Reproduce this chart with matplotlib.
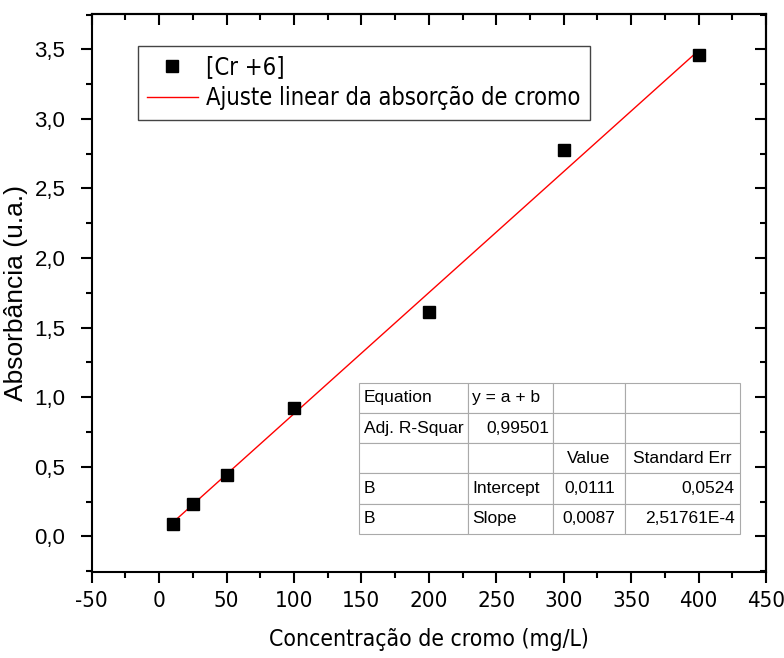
import matplotlib
matplotlib.use('Agg')
import matplotlib.pyplot as plt
import numpy as np
from matplotlib.ticker import MultipleLocator, FuncFormatter
from matplotlib.font_manager import FontProperties

# dados
conc = [10, 25, 50, 100, 200, 300, 400]
absorb = [0.091, 0.235, 0.444, 0.925, 1.615, 2.773, 3.461]
intercept = 0.0111
slope = 0.0087

table_rows = [['Equation', 'y = a + b', '', ''],
              ['Adj. R-Squar', '0,99501', '', ''],
              ['', '', 'Value', 'Standard Err'],
              ['B', 'Intercept', '0,0111', '0,0524'],
              ['B', 'Slope', '0,0087', '2,51761E-4']]

plt.rcParams['axes.unicode_minus'] = False
arial = ['Liberation Sans', 'DejaVu Sans']


def narrow(size):
    return FontProperties(family='DejaVu Sans', stretch='condensed', size=size)


fig = plt.figure(figsize=(7.84, 6.58), dpi=100)
ax = fig.add_axes([0.117, 0.131, 0.860, 0.848])

ax.plot(conc, absorb, 's', color='black', markersize=8, label='[Cr +6]', zorder=3)
xfit = np.array([conc[0], conc[-1]])
ax.plot(xfit, intercept + slope * xfit, color='red', lw=1,
        label='Ajuste linear da absorção de cromo', zorder=2)

ax.set_xlim(-50, 450)
ax.set_ylim(-0.255, 3.755)
ax.xaxis.set_major_locator(MultipleLocator(50))
ax.xaxis.set_minor_locator(MultipleLocator(25))
ax.yaxis.set_major_locator(MultipleLocator(0.5))
ax.yaxis.set_minor_locator(MultipleLocator(0.25))
ax.yaxis.set_major_formatter(FuncFormatter(lambda v, p: f'{v:.1f}'.replace('.', ',')))
ax.xaxis.set_major_formatter(FuncFormatter(lambda v, p: f'{v:.0f}'))

for s in ax.spines.values():
    s.set_linewidth(1.5)
ax.tick_params(which='major', direction='out', length=8, width=1.5,
               top=False, right=False)
ax.tick_params(which='minor', direction='out', length=4, width=1.5,
               top=False, right=False)
ax.tick_params(axis='x', which='major', pad=6)
ax.tick_params(axis='y', which='major', pad=11, labelsize=16,
               labelfontfamily='Liberation Sans')

# ticks internos em cima e à direita
sec_x = ax.secondary_xaxis('top')
sec_x.xaxis.set_major_locator(MultipleLocator(50))
sec_x.xaxis.set_minor_locator(MultipleLocator(25))
sec_x.tick_params(which='major', direction='in', length=8, width=1.5, labeltop=False)
sec_x.tick_params(which='minor', direction='in', length=4, width=1.5)
sec_x.spines['top'].set_linewidth(1.5)
sec_y = ax.secondary_yaxis('right')
sec_y.yaxis.set_major_locator(MultipleLocator(0.5))
sec_y.yaxis.set_minor_locator(MultipleLocator(0.25))
sec_y.tick_params(which='major', direction='in', length=8, width=1.5, labelright=False)
sec_y.tick_params(which='minor', direction='in', length=4, width=1.5)
sec_y.spines['right'].set_linewidth(1.5)

fig.canvas.draw()
for lab in ax.get_xticklabels():
    lab.set_fontproperties(narrow(16))

ax.set_xlabel('Concentração de cromo (mg/L)', fontproperties=narrow(16.5), labelpad=12)
ax.set_ylabel('Absorbância (u.a.)', family=arial, fontsize=19)
ax.yaxis.set_label_coords(-0.095, 0.5)

leg = ax.legend(loc='upper left', bbox_to_anchor=(0.068, 0.943), borderaxespad=0,
                fancybox=False, edgecolor='#444444', framealpha=1,
                handlelength=2.15, prop=narrow(17), borderpad=0.4,
                labelspacing=0.3, handletextpad=0.35)
leg.get_frame().set_linewidth(1)

tbl = ax.table(cellText=table_rows, bbox=[0.396, 0.068, 0.565, 0.271],
               colWidths=[0.288, 0.222, 0.188, 0.302], cellLoc='left', zorder=4)
tbl.auto_set_font_size(False)
tbl.set_fontsize(12.5)
right_cells = [(1, 1), (3, 2), (4, 2), (3, 3), (4, 3)]
for (r, c), cell in tbl.get_celld().items():
    cell.set_edgecolor('#aaaaaa')
    cell.set_linewidth(0.8)
    cell.PAD = 0.045
    cell.get_text().set_family(arial)
    if r == 2 and c >= 2:
        cell._loc = 'center'
        cell.get_text().set_ha('center')
    elif (r, c) in right_cells:
        cell._loc = 'right'
        cell.get_text().set_ha('right')
        if c == 2:
            cell.PAD = 0.13

fig.savefig('out.png', dpi=100)
